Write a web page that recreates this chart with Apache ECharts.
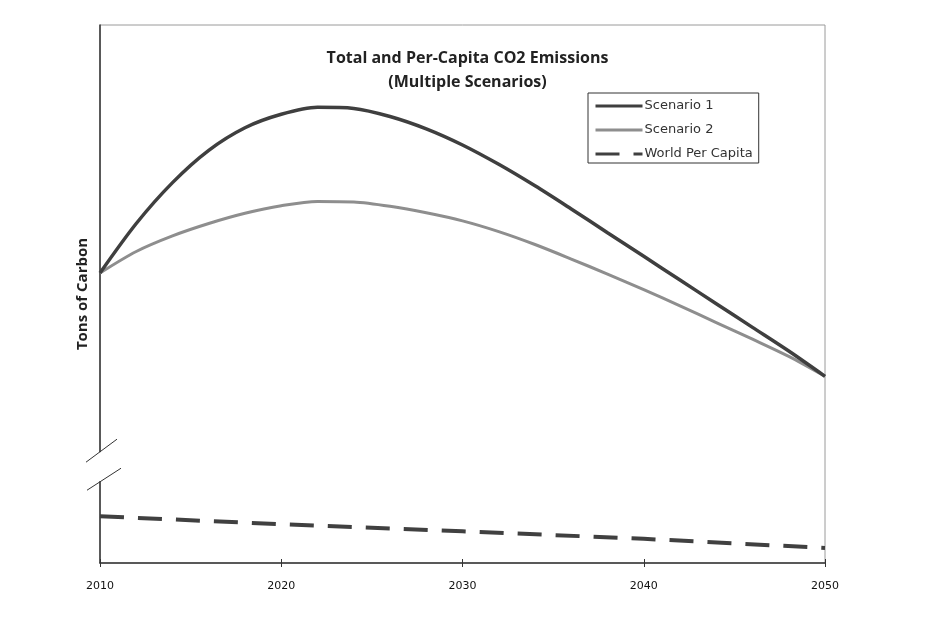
<!DOCTYPE html>
<html>
<head>
<meta charset="utf-8">
<script src="https://cdn.jsdelivr.net/npm/echarts@6/dist/echarts.min.js"></script>
<style>
  html, body { margin: 0; padding: 0; background: #fff; }
  #chart { width: 935px; height: 618px; }
</style>
</head>
<body>
<div id="chart"></div>
<script>
// years sampled along the two scenario curves
const years = [2010, 2012, 2014, 2016, 2018, 2020, 2022, 2024, 2026, 2028, 2030,
               2032, 2034, 2036, 2038, 2040, 2042, 2044, 2046, 2048, 2050];
// total emissions, arbitrary index (axis has no tick labels)
const scenario1 = [53.9, 63.1, 70.7, 76.7, 80.9, 83.4, 84.7, 84.5, 83.0, 80.7, 77.7,
                   74.1, 70.1, 65.8, 61.4, 57.0, 52.6, 48.2, 43.8, 39.4, 34.7];
const scenario2 = [53.9, 57.9, 60.8, 63.1, 65.0, 66.4, 67.2, 67.1, 66.3, 65.1, 63.6,
                   61.6, 59.2, 56.5, 53.7, 50.8, 47.8, 44.7, 41.6, 38.4, 34.7];
// per capita, drawn below the axis break
const pcYears = [2010, 2020, 2030, 2040, 2050];
const perCapita = [8.7, 7.2, 5.9, 4.5, 2.8];

const xTicks = [2010, 2020, 2030, 2040, 2050];
// the axis break sits between these two values
const breakTop = 20.6;
const breakBottom = 15.2;

const pair = (xs, ys) => xs.map((x, i) => [x, ys[i]]);

const chart = echarts.init(document.getElementById('chart'));
const font = 'DejaVu Sans, sans-serif';
const boldFont = 'Open Sans, sans-serif';

const option = {
    backgroundColor: '#ffffff',
    animation: false,
    title: {
        text: 'Total and Per-Capita CO2 Emissions\n(Multiple Scenarios)',
        left: 'center',
        top: 46,
        padding: 0,
        textStyle: {
            fontFamily: boldFont,
            fontWeight: 'bold',
            fontSize: 16,
            lineHeight: 24,
            color: '#222'
        }
    },
    legend: {
        orient: 'vertical',
        left: 588,
        top: 93,
        padding: [6, 6, 2, 6],
        itemGap: 10,
        itemWidth: 47,
        itemHeight: 14,
        borderColor: '#333',
        borderWidth: 1,
        itemStyle: { opacity: 0 },
        lineStyle: { width: 3 },
        textStyle: {
            fontFamily: font, fontSize: 13, lineHeight: 14, color: '#333',
            padding: [0, 0, 0, -3]
        },
        data: ['Scenario 1', 'Scenario 2', 'World Per Capita']
    },
    grid: {
        left: 100, right: 110, top: 25, bottom: 55,
        show: true,
        borderColor: '#9a9a9a',
        borderWidth: 1
    },
    xAxis: [{
        type: 'value',
        min: 2010,
        max: 2050,
        interval: 10,
        axisLine: { lineStyle: { color: '#333', width: 1.5 } },
        axisTick: { length: 4, lineStyle: { color: '#333' } },
        splitLine: { show: false },
        axisLabel: {
            fontFamily: font, fontSize: 11, color: '#111', margin: 18,
            formatter: v => xTicks.includes(v) ? String(v) : ''
        }
    }, {
        type: 'value',
        position: 'bottom',
        min: 2010,
        max: 2050,
        interval: 10,
        axisLine: { show: false },
        axisTick: { inside: true, length: 4, lineStyle: { color: '#333' } },
        splitLine: { show: false },
        axisLabel: { show: false }
    }],
    yAxis: {
        type: 'value',
        min: 0,
        max: 100,
        name: 'Tons of Carbon',
        nameLocation: 'middle',
        nameGap: 10,
        nameTextStyle: {
            fontFamily: boldFont,
            fontWeight: 'bold',
            fontSize: 15,
            color: '#222'
        },
        axisLine: { show: true, lineStyle: { color: '#333', width: 1.5 } },
        axisTick: { show: false },
        axisLabel: { show: false },
        splitLine: { show: false }
    },
    series: [{
        name: 'Scenario 1',
        type: 'line',
        smooth: 0.3,
        symbol: 'none',
        data: pair(years, scenario1),
        lineStyle: { color: '#3f3f3f', width: 3.5 },
        itemStyle: { color: '#3f3f3f' },
        z: 3
    }, {
        name: 'Scenario 2',
        type: 'line',
        smooth: 0.3,
        symbol: 'none',
        data: pair(years, scenario2),
        lineStyle: { color: '#8e8e8e', width: 3 },
        itemStyle: { color: '#8e8e8e' },
        z: 2
    }, {
        name: 'World Per Capita',
        type: 'line',
        symbol: 'none',
        data: pair(pcYears, perCapita),
        lineStyle: { color: '#404040', width: 4, type: [24, 14] },
        itemStyle: { color: '#404040' }
    }]
};

chart.setOption(option);

// axis break marks on the y axis
const ax = chart.convertToPixel({ xAxisIndex: 0 }, 2010);
const yTop = chart.convertToPixel({ yAxisIndex: 0 }, breakTop);
const yBot = chart.convertToPixel({ yAxisIndex: 0 }, breakBottom);
const slash = { stroke: '#333', lineWidth: 1 };
chart.setOption({
    graphic: [{
        type: 'rect',
        shape: { x: ax - 3, y: yTop, width: 6, height: yBot - yTop },
        style: { fill: '#ffffff' },
        z: 100
    }, {
        type: 'line',
        shape: { x1: ax - 14, y1: yTop + 10, x2: ax + 17, y2: yTop - 13 },
        style: slash,
        z: 101
    }, {
        type: 'line',
        shape: { x1: ax - 13, y1: yBot + 9, x2: ax + 21, y2: yBot - 13 },
        style: slash,
        z: 101
    }]
});
</script>
</body>
</html>
